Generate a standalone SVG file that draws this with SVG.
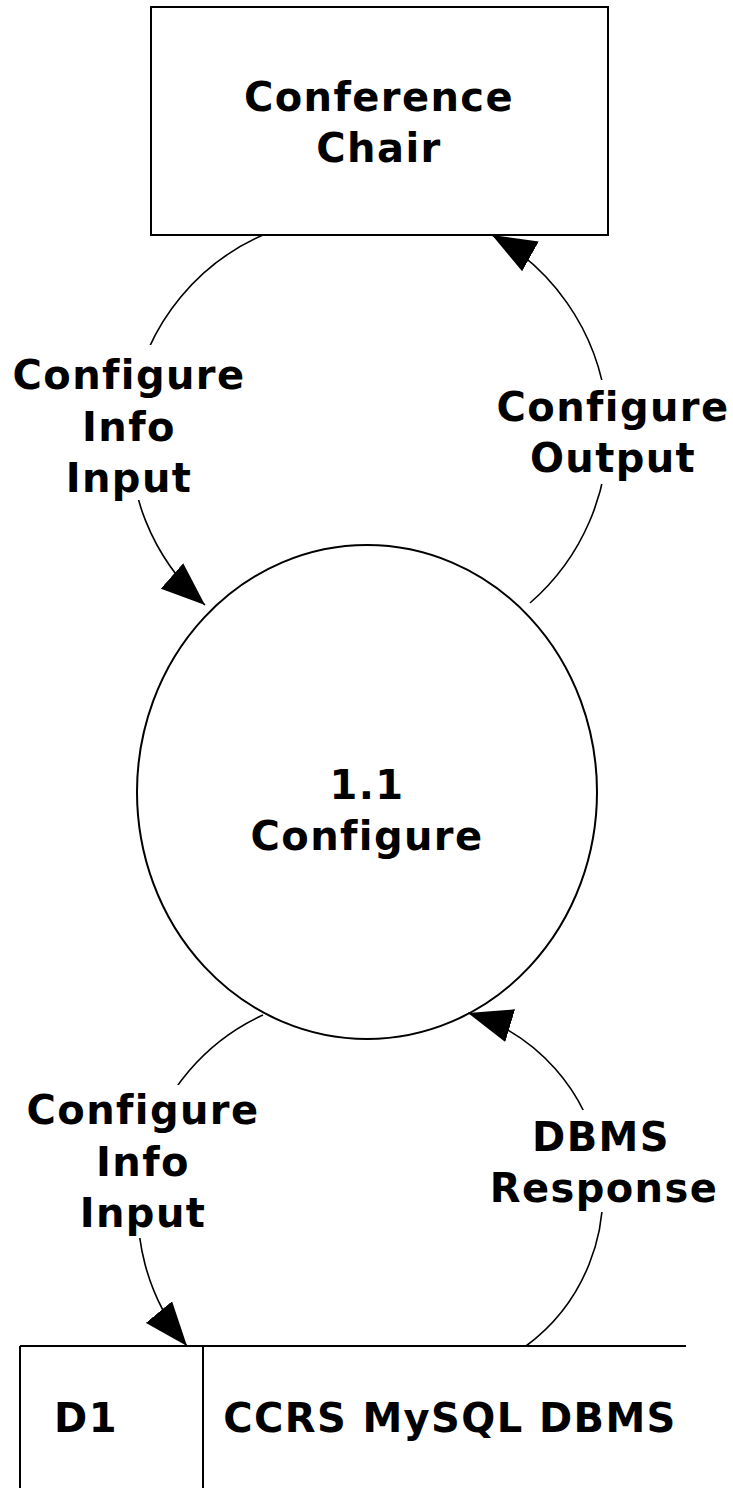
<svg xmlns="http://www.w3.org/2000/svg" width="733" height="1488" viewBox="0 0 733 1488">
<style>
text{font-family:"DejaVu Sans","Verdana","Liberation Sans",sans-serif;font-weight:bold;font-size:40px;letter-spacing:1.4px;fill:#000;text-anchor:middle}
.ln{fill:none;stroke:#000;stroke-width:1.6}
.shape{fill:#fff;stroke:#000;stroke-width:2}
.bg{fill:#fff;stroke:none}
</style>
<defs>
<marker id="arr" markerUnits="userSpaceOnUse" markerWidth="44" markerHeight="34" viewBox="0 0 44 34" refX="44" refY="17" orient="auto">
<path d="M0,0 L44,17 L0,34 z" fill="#000"/>
</marker>
</defs>
<rect width="733" height="1488" fill="#fff"/>
<g id="connectors">
<path class="ln" d="M263,235 A222,222 0 0 0 205,605" marker-end="url(#arr)"/>
<path class="ln" d="M530,603 A226,226 0 0 0 492,235" marker-end="url(#arr)"/>
<path class="ln" d="M263,1015 A214,214 0 0 0 187,1346" marker-end="url(#arr)"/>
<path class="ln" d="M526,1346 A189,189 0 0 0 468,1013" marker-end="url(#arr)"/>
<rect class="bg" x="10" y="345" width="236" height="155"/>
<rect class="bg" x="494" y="380" width="237" height="104"/>
<rect class="bg" x="25" y="1085" width="236" height="153"/>
<rect class="bg" x="490" y="1110" width="226" height="102"/>
<text x="129" y="389">Configure</text>
<text x="129" y="441">Info</text>
<text x="129" y="492">Input</text>
<text x="613" y="421">Configure</text>
<text x="613" y="472">Output</text>
<text x="143" y="1124">Configure</text>
<text x="143" y="1176">Info</text>
<text x="143" y="1227">Input</text>
<text x="601" y="1151">DBMS</text>
<text x="604" y="1202">Response</text>
</g>
<g id="conference-chair">
<rect class="shape" x="151" y="7" width="457" height="228" stroke="#333"/>
<text x="379" y="111">Conference</text>
<text x="379" y="162">Chair</text>
</g>
<g id="process-1-1">
<ellipse class="shape" cx="367" cy="792" rx="230" ry="247" style="fill:none"/>
<text x="367" y="799">1.1</text>
<text x="367" y="850">Configure</text>
</g>
<g id="d1-store">
<path class="ln" d="M20,1346 H686 M20,1346 V1488 M203,1346 V1488" style="stroke-width:2"/>
<text x="86" y="1432">D1</text>
<text x="450" y="1432">CCRS MySQL DBMS</text>
</g>
</svg>
